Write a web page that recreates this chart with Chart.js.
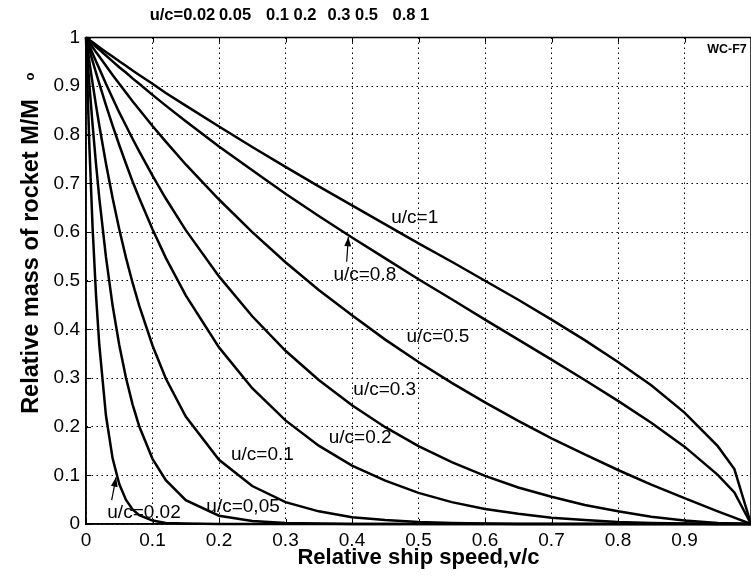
<!DOCTYPE html>
<html>
<head>
<meta charset="utf-8">
<script src="https://cdn.jsdelivr.net/npm/chart.js@4.4.1/dist/chart.umd.min.js"></script>
<style>
  html, body { margin: 0; padding: 0; background: #fff; overflow: hidden; }
  #wrap { position: relative; width: 756px; height: 578px; }
</style>
</head>
<body>
<div id="wrap"><canvas id="rocketChart"></canvas></div>
<script>
// DATA

// ship speed v/c, shared by all curves
const speed = [0, 0.005, 0.01, 0.015, 0.02, 0.03, 0.04, 0.05, 0.06, 0.07, 0.08, 0.1, 0.12, 0.15,
    0.2, 0.25, 0.3, 0.35, 0.4, 0.45, 0.5, 0.55, 0.6, 0.65, 0.7, 0.75, 0.8, 0.85, 0.9, 0.95, 0.975, 1];

// relative mass M/Mo for each exhaust speed u/c
const massUc1 = [1, 0.995, 0.990, 0.985, 0.980, 0.970, 0.961, 0.951, 0.942, 0.932, 0.923, 0.905, 0.886, 0.860,
    0.817, 0.775, 0.734, 0.694, 0.655, 0.616, 0.577, 0.539, 0.500, 0.461, 0.420, 0.378, 0.333, 0.285, 0.229, 0.160, 0.113, 0];
const massUc08 = [1, 0.994, 0.988, 0.981, 0.975, 0.963, 0.951, 0.939, 0.928, 0.916, 0.905, 0.882, 0.860, 0.828,
    0.776, 0.727, 0.679, 0.633, 0.589, 0.546, 0.503, 0.462, 0.420, 0.379, 0.338, 0.296, 0.253, 0.208, 0.159, 0.101, 0.065, 0];
const massUc05 = [1, 0.990, 0.980, 0.970, 0.961, 0.942, 0.923, 0.905, 0.887, 0.869, 0.852, 0.818, 0.786, 0.739,
    0.667, 0.600, 0.538, 0.481, 0.429, 0.379, 0.333, 0.290, 0.250, 0.212, 0.176, 0.143, 0.111, 0.081, 0.053, 0.026, 0.013, 0];
const massUc03 = [1, 0.983, 0.967, 0.951, 0.936, 0.905, 0.875, 0.846, 0.819, 0.792, 0.766, 0.716, 0.669, 0.604,
    0.509, 0.427, 0.356, 0.296, 0.244, 0.199, 0.160, 0.127, 0.099, 0.075, 0.056, 0.039, 0.026, 0.015, 0.007, 0.002, 0.001, 0];
const massUc02 = [1, 0.975, 0.951, 0.928, 0.905, 0.861, 0.819, 0.779, 0.741, 0.704, 0.670, 0.606, 0.547, 0.470,
    0.363, 0.279, 0.213, 0.161, 0.120, 0.089, 0.064, 0.045, 0.031, 0.021, 0.013, 0.008, 0.004, 0.002, 0.001, 0, 0, 0];
const massUc01 = [1, 0.951, 0.905, 0.861, 0.819, 0.741, 0.670, 0.606, 0.548, 0.496, 0.449, 0.367, 0.299, 0.221,
    0.132, 0.078, 0.045, 0.026, 0.014, 0.008, 0.004, 0.002, 0.001, 0, 0, 0, 0, 0, 0, 0, 0, 0];
const massUc005 = [1, 0.905, 0.819, 0.741, 0.670, 0.549, 0.449, 0.368, 0.301, 0.246, 0.201, 0.134, 0.090, 0.049,
    0.017, 0.006, 0.002, 0.001, 0, 0, 0, 0, 0, 0, 0, 0, 0, 0, 0, 0, 0, 0];
const massUc002 = [1, 0.779, 0.607, 0.472, 0.368, 0.223, 0.135, 0.082, 0.050, 0.030, 0.018, 0.007, 0.002, 0.001,
    0, 0, 0, 0, 0, 0, 0, 0, 0, 0, 0, 0, 0, 0, 0, 0, 0, 0];

const seriesNames = ["u/c=1", "u/c=0.8", "u/c=0.5", "u/c=0.3", "u/c=0.2", "u/c=0.1", "u/c=0,05", "u/c=0.02"];
const seriesValues = [massUc1, massUc08, massUc05, massUc03, massUc02, massUc01, massUc005, massUc002];

const headerLabels = ["u/c=0.02", "0.05", "0.1", "0.2", "0.3", "0.5", "0.8", "1"];

// LAYOUT OF TEXT

const FONT = '"Liberation Sans", Arial, Helvetica, sans-serif';
Chart.defaults.font.family = FONT;
Chart.defaults.color = "#000";

// header pieces, centre x in pixels
const headerX = [182.5, 235, 277.5, 305, 339, 366.5, 404, 424.5];
// curve labels: left edge and middle, in data units
const labelPos = [[0.459, 0.629], [0.372, 0.512], [0.482, 0.384], [0.402, 0.275],
    [0.365, 0.177], [0.218, 0.142], [0.181, 0.035], [0.032, 0.023]];
// arrows: [tailX, tailY, tipX, tipY] in data units
const arrows = [[0.392, 0.539, 0.3945, 0.59], [0.0386, 0.049, 0.0452, 0.096]];

const decorations = {
    id: "decorations",
    afterDatasetsDraw(chart) {
        const { ctx, chartArea: a, scales: { x, y } } = chart;
        ctx.save();

        // box round the plot
        ctx.strokeStyle = "#000";
        ctx.lineWidth = 1.5;
        ctx.strokeRect(a.left, a.top, a.right - a.left, a.bottom - a.top);

        // inward tick marks
        ctx.lineWidth = 1;
        ctx.beginPath();
        x.ticks.forEach(t => {
            const px = Math.round(x.getPixelForValue(t.value)) + 0.5;
            ctx.moveTo(px, a.top); ctx.lineTo(px, a.top + 5);
            ctx.moveTo(px, a.bottom); ctx.lineTo(px, a.bottom - 5);
        });
        y.ticks.forEach(t => {
            const py = Math.round(y.getPixelForValue(t.value)) + 0.5;
            ctx.moveTo(a.left, py); ctx.lineTo(a.left + 5, py);
        });
        ctx.stroke();

        // curve labels
        ctx.fillStyle = "#000";
        ctx.font = "19px " + FONT;
        ctx.textAlign = "left";
        ctx.textBaseline = "middle";
        seriesNames.forEach((name, i) => {
            ctx.fillText(name, x.getPixelForValue(labelPos[i][0]), y.getPixelForValue(labelPos[i][1]));
        });

        // arrows pointing at curves
        arrows.forEach(([x0, y0, x1, y1]) => {
            const ax = x.getPixelForValue(x0), ay = y.getPixelForValue(y0);
            const bx = x.getPixelForValue(x1), by = y.getPixelForValue(y1);
            const ang = Math.atan2(by - ay, bx - ax);
            ctx.lineWidth = 1.2;
            ctx.beginPath();
            ctx.moveTo(ax, ay);
            ctx.lineTo(bx, by);
            ctx.stroke();
            ctx.beginPath();
            ctx.moveTo(bx, by);
            ctx.lineTo(bx - 10 * Math.cos(ang - 0.35), by - 10 * Math.sin(ang - 0.35));
            ctx.lineTo(bx - 10 * Math.cos(ang + 0.35), by - 10 * Math.sin(ang + 0.35));
            ctx.closePath();
            ctx.fill();
        });

        ctx.restore();
    },
    afterDraw(chart) {
        const ctx = chart.ctx;
        ctx.save();
        ctx.fillStyle = "#000";

        // header with the u/c values
        ctx.font = "bold 16.5px " + FONT;
        ctx.textAlign = "center";
        ctx.textBaseline = "middle";
        headerLabels.forEach((txt, i) => ctx.fillText(txt, headerX[i], 15));

        // figure tag
        ctx.font = "bold 12.5px " + FONT;
        ctx.fillText("WC-F7", 727, 50);

        // y axis title with subscript
        ctx.translate(38, 256.5);
        ctx.rotate(-Math.PI / 2);
        ctx.font = "bold 23.5px " + FONT;
        ctx.textBaseline = "alphabetic";
        ctx.fillText("Relative mass of rocket M/M", 0, 0);
        ctx.font = "bold 13px " + FONT;
        ctx.textBaseline = "middle";
        ctx.fillText("o", 180, -7.5);

        ctx.restore();
    }
};

// CHART

const ctxEl = document.getElementById("rocketChart");

new Chart(ctxEl, {
    type: "line",
    data: {
        datasets: seriesValues.map((vals, i) => ({
            label: seriesNames[i],
            data: speed.map((v, j) => ({ x: v, y: vals[j] })),
            borderColor: "#000",
            borderWidth: 2.5,
            pointRadius: 0,
            tension: 0,
            fill: false,
            clip: false
        }))
    },
    options: {
        responsive: true,
        maintainAspectRatio: false,
        animation: false,
        devicePixelRatio: 1,
        layout: { padding: { top: 37.5, right: 2, bottom: 0, left: 0 } },
        plugins: {
            legend: { display: false },
            title: { display: false },
            tooltip: { enabled: false }
        },
        scales: {
            x: {
                type: "linear",
                min: 0,
                max: 1,
                afterFit(scale) { scale.height = 54; },
                ticks: {
                    stepSize: 0.1,
                    autoSkip: false,
                    maxRotation: 0,
                    padding: 5,
                    font: { size: 19 },
                    color: "#000",
                    callback: v => (Math.round(v * 10) === 10 ? "" : String(Math.round(v * 10) / 10))
                },
                grid: {
                    color: "#000",
                    lineWidth: 1,
                    drawTicks: false
                },
                border: { display: true, color: "#000", width: 1.5, dash: [1.5, 3.5] },
                title: {
                    display: true,
                    text: "Relative ship speed,v/c",
                    color: "#000",
                    font: { size: 22, weight: "bold", lineHeight: 1.2 },
                    padding: { top: 0, bottom: 7 }
                }
            },
            y: {
                type: "linear",
                min: 0,
                max: 1,
                afterFit(scale) { scale.width = 86; },
                ticks: {
                    stepSize: 0.1,
                    autoSkip: false,
                    padding: 6,
                    font: { size: 19 },
                    color: "#000",
                    callback: v => String(Math.round(v * 10) / 10)
                },
                grid: {
                    color: "#000",
                    lineWidth: 1,
                    drawTicks: false
                },
                border: { display: true, color: "#000", width: 1.5, dash: [1.5, 3.5] }
            }
        }
    },
    plugins: [decorations]
});
</script>
</body>
</html>
